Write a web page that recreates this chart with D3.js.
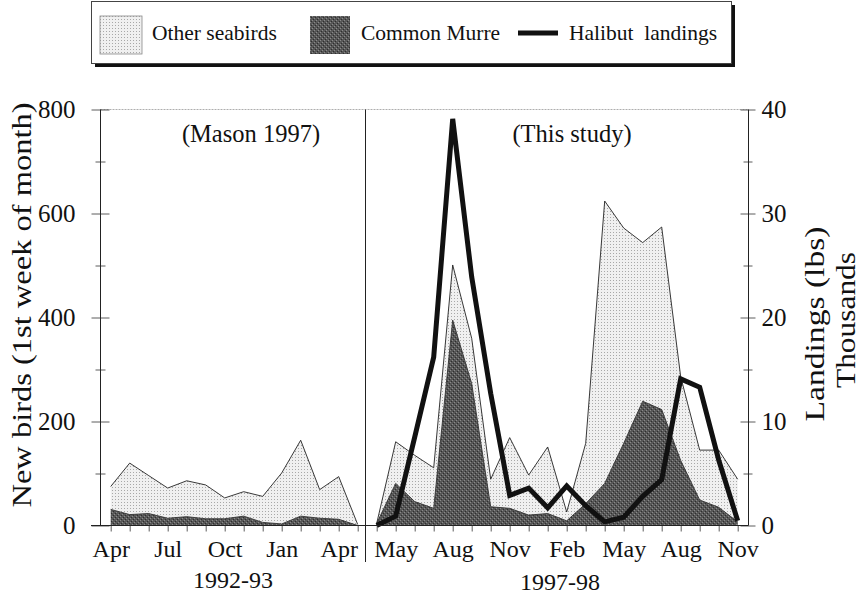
<!DOCTYPE html>
<html>
<head>
<meta charset="utf-8">
<script src="https://cdn.jsdelivr.net/npm/d3@7"></script>
<style>
  body { margin: 0; background: #fff; }
  text { font-family: "Liberation Serif", "Times New Roman", serif; fill: #111; }
</style>
</head>
<body>
<svg width="865" height="597"></svg>
<script>
// 1992-93 (Mason 1997), Apr 92 .. May 93
const monthsL = ["Apr","May","Jun","Jul","Aug","Sep","Oct","Nov","Dec","Jan","Feb","Mar","Apr","May"];
const otherL  = [75, 120, 96, 72, 86, 78, 53, 65, 56, 101, 164, 69, 94, 2];
const murreL  = [31, 21, 23, 14, 17, 13, 13, 18, 6, 3, 18, 14, 12, 0];

// 1997-98 (This study), Apr 97 .. Nov 98
const monthsR = ["Apr","May","Jun","Jul","Aug","Sep","Oct","Nov","Dec","Jan","Feb","Mar","Apr","May","Jun","Jul","Aug","Sep","Oct","Nov"];
const otherR  = [4, 161, 135, 111, 501, 360, 89, 169, 97, 151, 26, 158, 624, 572, 544, 574, 286, 145, 145, 89];
const murreR  = [4, 81, 46, 33, 395, 273, 36, 33, 20, 23, 9, 42, 81, 158, 239, 223, 125, 49, 35, 7];
const halibut = [0, 0.9, 8.5, 16.2, 39.1, 23.9, 12.7, 2.9, 3.6, 1.7, 3.8, 1.9, 0.35, 0.8, 2.8, 4.4, 14.1, 13.3, 6.3, 0.45];

const labelIdxL = [0, 3, 6, 9, 12];
const labelIdxR = [1, 4, 7, 10, 13, 16, 19];
const birdTicks = [0, 200, 400, 600, 800];
const landTicks = [0, 10, 20, 30, 40];

const svg = d3.select("svg");

// textures
const defs = svg.append("defs");
const light = defs.append("pattern").attr("id", "light").attr("width", 3).attr("height", 3)
  .attr("patternUnits", "userSpaceOnUse");
light.append("rect").attr("width", 3).attr("height", 3).attr("fill", "#f0f0f0");
light.append("rect").attr("x", 1).attr("y", 1).attr("width", 1).attr("height", 1).attr("fill", "#a8a8a8");
const dark = defs.append("pattern").attr("id", "dark").attr("width", 4).attr("height", 4)
  .attr("patternUnits", "userSpaceOnUse");
dark.append("rect").attr("width", 4).attr("height", 4).attr("fill", "#575757");
dark.append("rect").attr("x", 0).attr("y", 0).attr("width", 1).attr("height", 1).attr("fill", "#8a8a8a");
dark.append("rect").attr("x", 2).attr("y", 2).attr("width", 1).attr("height", 1).attr("fill", "#8a8a8a");
dark.append("rect").attr("x", 1).attr("y", 3).attr("width", 1).attr("height", 1).attr("fill", "#2e2e2e");
dark.append("rect").attr("x", 3).attr("y", 1).attr("width", 1).attr("height", 1).attr("fill", "#2e2e2e");

const yTop = 109.5, base = 525.5, xLeft = 100.5, xMid = 365.5, xRight = 748.5;

const y = d3.scaleLinear().domain([0, 800]).range([base, yTop]);
const yR = d3.scaleLinear().domain([0, 40]).range([base, yTop]);
const xL = d3.scaleLinear().domain([0, 13]).range([110.7, 357.7]);
const xR = d3.scaleLinear().domain([0, 19]).range([376.7, 737.7]);

// frame top (faint)
svg.append("line").attr("x1", xLeft).attr("x2", xRight).attr("y1", yTop).attr("y2", yTop)
  .attr("stroke", "#999").attr("stroke-width", 0.8).attr("stroke-dasharray", "2,1");

function drawAreas(x, other, murre) {
  const area = d3.area().x((d, i) => x(i)).y0(base).y1(d => y(d));
  const line = d3.line().x((d, i) => x(i)).y(d => y(d));
  svg.append("path").datum(other).attr("d", area).attr("fill", "url(#light)");
  svg.append("path").datum(other).attr("d", line).attr("fill", "none").attr("stroke", "#222").attr("stroke-width", 0.9);
  svg.append("path").datum(murre).attr("d", area).attr("fill", "url(#dark)");
  svg.append("path").datum(murre).attr("d", line).attr("fill", "none").attr("stroke", "#333").attr("stroke-width", 0.9);
}
drawAreas(xL, otherL, murreL);
drawAreas(xR, otherR, murreR);

// halibut landings
svg.append("path").datum(halibut)
  .attr("d", d3.line().x((d, i) => xR(i)).y(d => yR(d)))
  .attr("fill", "none").attr("stroke", "#111").attr("stroke-width", 5)
  .attr("stroke-linejoin", "miter");

// left axis
const gy = svg.append("g").attr("transform", `translate(${xLeft},0)`)
  .call(d3.axisLeft(y).tickValues(d3.range(0, 801, 100)).tickSize(9).tickFormat(d => birdTicks.includes(d) ? d : ""));
gy.select(".domain").remove();
gy.selectAll(".tick line").attr("x1", d => d % 200 === 0 ? 9 : 5).attr("x2", d => d % 200 === 0 ? -9 : -5)
  .attr("stroke", "#333").attr("stroke-width", 0.8);
gy.selectAll(".tick text").attr("x", -25).attr("font-size", 25).attr("font-family", null);
svg.append("line").attr("x1", xLeft).attr("x2", xLeft).attr("y1", yTop).attr("y2", base).attr("stroke", "#222");

// right axis
const gr = svg.append("g").attr("transform", `translate(${xRight},0)`)
  .call(d3.axisRight(yR).tickValues(d3.range(0, 41, 5)).tickSize(7).tickFormat(d => landTicks.includes(d) ? d : ""));
gr.select(".domain").remove();
gr.selectAll(".tick line").attr("x1", d => d % 10 === 0 ? -8 : -5).attr("x2", d => d % 10 === 0 ? 7 : 4)
  .attr("stroke", "#333").attr("stroke-width", 0.8);
gr.selectAll(".tick text").attr("x", 13).attr("font-size", 25).attr("font-family", null);
svg.append("line").attr("x1", xRight).attr("x2", xRight).attr("y1", yTop).attr("y2", base).attr("stroke", "#222");

// divider
svg.append("line").attr("x1", xMid).attr("x2", xMid).attr("y1", yTop).attr("y2", 562).attr("stroke", "#222");

// baseline
svg.append("line").attr("x1", 91).attr("x2", xRight).attr("y1", base).attr("y2", base).attr("stroke", "#222");

// month axes
function monthAxis(x, months, idx) {
  const g = svg.append("g").attr("transform", `translate(0,${base})`)
    .call(d3.axisBottom(x).tickValues(d3.range(months.length)).tickSize(6).tickSizeOuter(0)
      .tickFormat(i => idx.includes(i) ? months[i] : ""));
  g.select(".domain").remove();
  g.selectAll(".tick line").attr("stroke", "#333").attr("stroke-width", 0.8);
  g.selectAll(".tick text").attr("y", 14).attr("dy", "0.71em").attr("font-size", 24).attr("font-family", null);
}
monthAxis(xL, monthsL, labelIdxL);
monthAxis(xR, monthsR, labelIdxR);

// year labels
svg.append("text").attr("x", 233).attr("y", 588).attr("text-anchor", "middle").attr("font-size", 24).text("1992-93");
svg.append("text").attr("x", 560).attr("y", 590).attr("text-anchor", "middle").attr("font-size", 24).text("1997-98");

// panel titles
svg.append("text").attr("x", 251).attr("y", 142).attr("text-anchor", "middle").attr("font-size", 24.5).text("(Mason 1997)");
svg.append("text").attr("x", 572).attr("y", 142).attr("text-anchor", "middle").attr("font-size", 24.5).text("(This study)");

// axis titles
svg.append("text").attr("transform", "translate(31,305) rotate(-90)").attr("text-anchor", "middle")
  .attr("font-size", 28).attr("textLength", 405).attr("lengthAdjust", "spacingAndGlyphs")
  .text("New birds (1st week of month)");
svg.append("text").attr("transform", "translate(824,324) rotate(-90)").attr("text-anchor", "middle")
  .attr("font-size", 27).attr("textLength", 195).attr("lengthAdjust", "spacingAndGlyphs")
  .text("Landings (lbs)");
svg.append("text").attr("transform", "translate(855,320) rotate(-90)").attr("text-anchor", "middle")
  .attr("font-size", 27).attr("textLength", 136).attr("lengthAdjust", "spacingAndGlyphs")
  .text("Thousands");

// legend
const lg = svg.append("g");
lg.append("rect").attr("x", 95).attr("y", 5).attr("width", 640).attr("height", 62).attr("fill", "#111");
lg.append("rect").attr("x", 91.5).attr("y", 1.5).attr("width", 640).attr("height", 62)
  .attr("fill", "#fff").attr("stroke", "#444").attr("stroke-width", 1);
lg.append("rect").attr("x", 100).attr("y", 16).attr("width", 42).attr("height", 38)
  .attr("fill", "url(#light)").attr("stroke", "#888").attr("stroke-width", 0.8);
lg.append("text").attr("x", 152).attr("y", 40).attr("font-size", 21.5).text("Other seabirds");
lg.append("rect").attr("x", 310).attr("y", 16).attr("width", 40).attr("height", 38)
  .attr("fill", "url(#dark)");
lg.append("text").attr("x", 361).attr("y", 40).attr("font-size", 21.5).text("Common Murre");
lg.append("line").attr("x1", 518).attr("x2", 558).attr("y1", 33).attr("y2", 33)
  .attr("stroke", "#111").attr("stroke-width", 5);
lg.append("text").attr("x", 569).attr("y", 40).attr("font-size", 21.5).attr("xml:space", "preserve").text("Halibut  landings");
</script>
</body>
</html>
